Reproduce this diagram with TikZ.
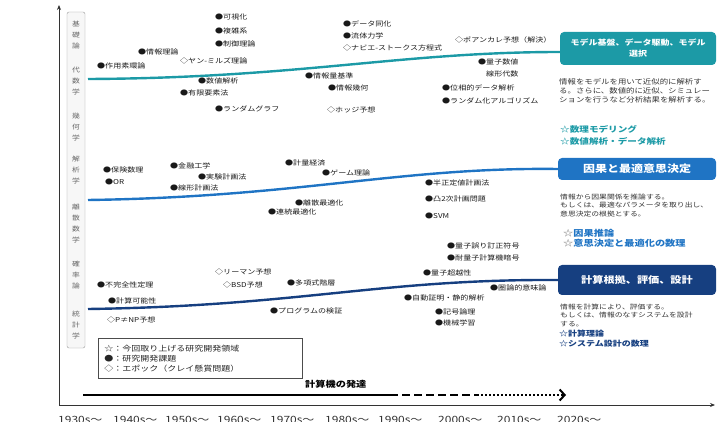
\documentclass[tikz,border=0pt]{standalone}
\usepackage{fontspec}
\setmainfont{Noto Sans CJK JP}[FakeStretch=1.2]
\usetikzlibrary{arrows.meta}
\definecolor{cteal}{HTML}{1C9AA6}
\definecolor{cblue}{HTML}{1F74C4}
\definecolor{cnavy}{HTML}{163F80}
\begin{document}
\begin{tikzpicture}[x=1pt,y=-1pt,
 item/.style={anchor=west, inner sep=0pt, font=\fontsize{6.7}{8}\selectfont, text=black!90},
 axlab/.style={inner sep=0pt, align=center, font=\fontsize{6.5}{11}\selectfont, text=black!60},
 catbox/.style={rounded corners=4pt, minimum width=156pt, inner sep=0pt, text=white, align=center},
 desc/.style={anchor=north west, inner sep=0pt, align=left, text=black!80},
 starline/.style={anchor=north west, inner sep=0pt, align=left},
 trend/.style={line width=2.4pt},
 year/.style={anchor=north west, inner sep=0pt, font=\fontsize{10}{12}\selectfont, text=black!80},
 axis/.style={black!80, line width=0.8pt, -{Stealth[length=5pt,width=4pt]}}
]
\useasboundingbox (0,0) rectangle (718,422);

% axes
\coordinate (o) at (59,405);
\coordinate (yt) at (59,5);
\coordinate (xe) at (715,405);
\draw[axis] (o) -- (yt);
\draw[axis] (o) -- (xe);

% left category box
\node[draw=black!40, fill=black!3, rounded corners=2pt, minimum width=18pt, minimum height=336pt, inner sep=0pt] (lbox) at (76,180) {};
\node[axlab] (l1) at (76,35) {基\\礎\\論};
\node[axlab] (l2) at (76,81) {代\\数\\学};
\node[axlab] (l3) at (76,127) {幾\\何\\学};
\node[axlab] (l4) at (76,170) {解\\析\\学};
\node[axlab] (l5) at (76,223.5) {離\\散\\数\\学};
\node[axlab] (l6) at (76,275) {確\\率\\論};
\node[axlab] (l7) at (76,325) {統\\計\\学};

% right boxes
\node[catbox, fill=cteal, minimum height=33pt, font=\bfseries\fontsize{7.5}{11}\selectfont] (b1) at (638,48.5) {モデル基盤、データ駆動、モデル\\選択};
\node[catbox, fill=cblue, minimum width=158pt, minimum height=22pt, font=\bfseries\fontsize{10}{12}\selectfont] (b2) at (637,169) {因果と最適意思決定};
\node[catbox, fill=cnavy, minimum width=158pt, minimum height=30pt, font=\bfseries\fontsize{9.3}{12}\selectfont] (b3) at (637,280) {計算根拠、評価、設計};

% trend lines
\coordinate (t1) at (88,79);
\coordinate (t2) at (88,200);
\coordinate (t3) at (88,309);
\draw[trend, cteal] (t1) .. controls (300,78) and (400,52) .. ([yshift=-3.5pt]b1.west);
\draw[trend, cblue] (t2) .. controls (300,197) and (400,167) .. (b2.west);
\draw[trend, cnavy] (t3) .. controls (300,306) and (380,279) .. (b3.west);

% descriptions
\node[desc, font=\fontsize{7}{8.7}\selectfont] (d1) at (559,78.5) {情報をモデルを用いて近似的に解析す\\る。さらに、数値的に近似、シミュレー\\ションを行うなど分析結果を解析する。};
\node[starline, font=\bfseries\fontsize{8}{12}\selectfont, text=cteal] (s1) at (560,125) {☆数理モデリング\\☆数値解析・データ解析};

\node[desc, font=\fontsize{6.5}{8.7}\selectfont] (d2) at (560,193.5) {情報から因果関係を推論する。\\もしくは、最適なパラメータを取り出し、\\意思決定の根拠とする。};
\node[starline, font=\bfseries\fontsize{8.5}{10}\selectfont, text=cblue] (s2) at (563,229) {{\color{black!45}☆}因果推論\\{\color{black!45}☆}意思決定と最適化の数理};

\node[desc, font=\fontsize{6.5}{8.7}\selectfont] (d3) at (560,303.5) {情報を計算により、評価する。\\もしくは、情報のなすシステムを設計\\する。};
\node[starline, font=\bfseries\fontsize{7.5}{10}\selectfont, text=cnavy] (s3) at (559,330) {☆計算理論\\☆システム設計の数理};

% items
\foreach \px/\py/\t [count=\k] in {
 215/17/●可視化, 215/31/●複雑系, 215/44/●制御理論, 138/52/●情報理論,
 180/61/◇ヤン-ミルズ理論, 97/66/●作用素環論, 198/81/●数値解析, 180/93/●有限要素法,
 215/109/●ランダムグラフ, 343/24/●データ同化, 343/36/●流体力学,
 343/48/◇ナビエ-ストークス方程式, 455/40/◇ポアンカレ予想（解決）,
 305/76/●情報量基準, 328/88/●情報幾何, 327/110/◇ホッジ予想,
 442/88/●位相的データ解析, 442/101/●ランダム化アルゴリズム,
 103/170/●保険数理, 105/182/●OR, 170/166/●金融工学, 198/177/●実験計画法,
 170/188/●線形計画法, 285/163/●計量経済, 322/173/●ゲーム理論,
 295/203/●離散最適化, 268/212/●連続最適化, 425/183/●半正定値計画法,
 425/199/●凸2次計画問題, 425/216/●SVM, 447/246/●量子誤り訂正符号,
 447/258/●耐量子計算機暗号,
 215/272/◇リーマン予想, 223/285/◇BSD予想, 97/285/●不完全性定理,
 108/301/●計算可能性, 107/320/◇P≠NP予想, 287/283/●多項式階層,
 423/273/●量子超越性, 490/288/●圏論的意味論, 404/298/●自動証明・静的解析,
 270/311/●プログラムの検証, 435/312/●記号論理, 435/323/●機械学習}
 \node[item] (it\k) at (\px,\py) {\t};
\node[item, anchor=north west, align=left, font=\fontsize{6.7}{12}\selectfont] (itq) at (478,59) {●量子数値\\\phantom{●}線形代数};

% legend
\node[draw=black!70, line width=0.6pt, anchor=north west, text width=192pt, inner xsep=6pt, minimum height=40pt, align=left, font=\fontsize{7.5}{10}\selectfont, text=black!85] (leg) at (98,338) {☆：今回取り上げる研究開発領域\\●：研究開発課題\\◇：エポック（クレイ懸賞問題）};

% computer development arrow
\coordinate (c0) at (83,395);
\coordinate (c1) at (390,395);
\coordinate (c2) at (477,395);
\coordinate (c3) at (566,395);
\draw[line width=2.6pt] (c0) -- (c1);
\draw[line width=2.6pt, dash pattern=on 8pt off 4pt] (c1) -- (c2);
\draw[line width=2pt, dash pattern=on 2pt off 2pt, -{Straight Barb[length=5pt,width=11pt,line width=2pt]}] (c2) -- (c3);
\node[anchor=west, inner sep=0pt, font=\bfseries\fontsize{8.5}{10}\selectfont] (tl) at (305,384) {計算機の発達};

% years
\foreach \px/\t [count=\k] in {58/1930s～, 113/1940s～, 165/1950s～, 217/1960s～, 270/1970s～, 325/1980s～, 378/1990s～, 438/2000s～, 497/2010s～, 557/2020s～}
 \node[year] (yr\k) at (\px,416.5) {\t};
\end{tikzpicture}
\end{document}
